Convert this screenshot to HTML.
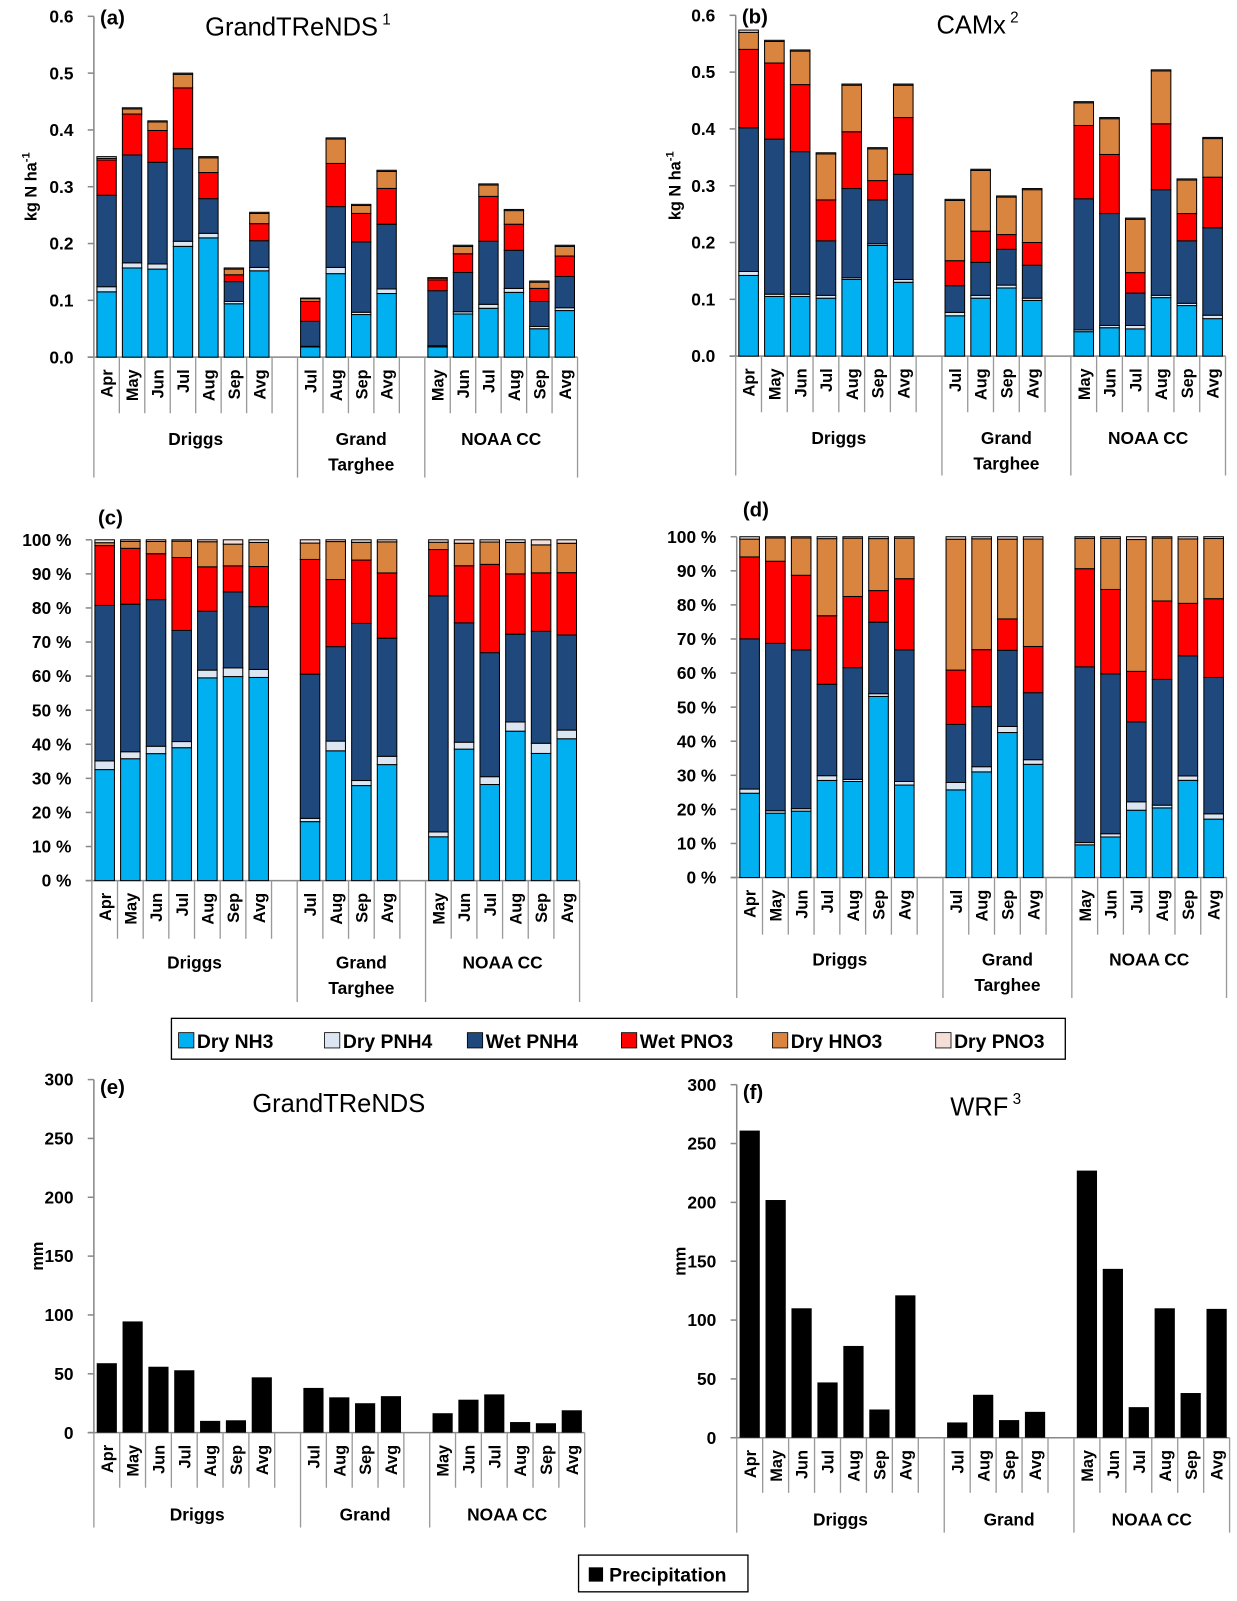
<!DOCTYPE html>
<html><head><meta charset="utf-8"><style>
html,body{margin:0;padding:0;background:#fff;}
svg{display:block;font-family:"Liberation Sans",sans-serif;}
</style></head><body>
<svg id="fig" width="1237" height="1601" viewBox="0 0 1237 1601" xmlns="http://www.w3.org/2000/svg"><g id="root" transform="scale(1.0204)"></g></svg>
<script>
// ---- categories ----
const driggsMonths=["Apr","May","Jun","Jul","Aug","Sep","Avg"];
const gtMonths=["Jul","Aug","Sep","Avg"];
const noaaMonths=["May","Jun","Jul","Aug","Sep","Avg"];
const groupLabelsNdep=[["Driggs"],["Grand","Targhee"],["NOAA CC"]];
const groupLabelsPrecip=[["Driggs"],["Grand"],["NOAA CC"]];
const seriesNames=["Dry NH3","Dry PNH4","Wet PNH4","Wet PNO3","Dry HNO3","Dry PNO3"];
// ---- panel (a) GrandTReNDS, kg N/ha ----
const aDryNH3 =[0.115,0.157,0.155,0.195,0.210,0.094,0.152, 0.018,0.147,0.075,0.112, 0.018,0.076,0.086,0.114,0.050,0.082];
const aDryPNH4=[0.009,0.009,0.009,0.009,0.008,0.004,0.006, 0.001,0.011,0.004,0.008, 0.002,0.004,0.007,0.007,0.004,0.005];
const aWetPNH4=[0.161,0.190,0.179,0.163,0.061,0.035,0.047, 0.044,0.107,0.124,0.114, 0.097,0.069,0.111,0.067,0.044,0.055];
const aWetPNO3=[0.062,0.072,0.056,0.107,0.046,0.012,0.030, 0.035,0.076,0.050,0.063, 0.019,0.033,0.079,0.046,0.023,0.036];
const aDryHNO3=[0.003,0.009,0.015,0.024,0.026,0.010,0.018, 0.005,0.043,0.014,0.030, 0.003,0.013,0.020,0.024,0.011,0.017];
const aDryPNO3=[0.003,0.002,0.002,0.002,0.002,0.002,0.002, 0.001,0.002,0.002,0.002, 0.001,0.002,0.002,0.002,0.002,0.002];
// ---- panel (b) CAMx, kg N/ha ----
const bDryNH3 =[0.142,0.105,0.105,0.102,0.135,0.195,0.130, 0.071,0.102,0.120,0.098, 0.043,0.050,0.048,0.103,0.089,0.066];
const bDryPNH4=[0.007,0.004,0.004,0.005,0.003,0.003,0.005, 0.006,0.005,0.005,0.004, 0.003,0.004,0.006,0.004,0.004,0.006];
const bWetPNH4=[0.253,0.273,0.251,0.096,0.157,0.077,0.185, 0.047,0.058,0.063,0.058, 0.231,0.197,0.057,0.186,0.110,0.154];
const bWetPNO3=[0.138,0.134,0.118,0.072,0.100,0.034,0.100, 0.044,0.055,0.026,0.040, 0.129,0.104,0.036,0.116,0.048,0.089];
const bDryHNO3=[0.030,0.038,0.059,0.081,0.082,0.056,0.057, 0.106,0.107,0.066,0.093, 0.040,0.063,0.094,0.093,0.059,0.068];
const bDryPNO3=[0.004,0.002,0.002,0.002,0.002,0.002,0.002, 0.002,0.002,0.002,0.002, 0.002,0.002,0.002,0.002,0.002,0.002];
// ---- precipitation, mm ----
const ePrecip=[59,94.5,56,53,10,10.5,47, 38,30,25,31, 16.5,28,32.5,9,8,19];
const fPrecip=[261,202,110,47,78,24,121, 13,36.5,15,22, 227,143.5,26,110,38,109.5];
// ---- tick labels ----
const absTicks=[0,0.1,0.2,0.3,0.4,0.5,0.6];
const absTickLabels=["0.0","0.1","0.2","0.3","0.4","0.5","0.6"];
const pctTicks=[0,10,20,30,40,50,60,70,80,90,100];
const pctTickLabels=["0 %","10 %","20 %","30 %","40 %","50 %","60 %","70 %","80 %","90 %","100 %"];
const mmTicks=[0,50,100,150,200,250,300];
const mmTickLabels=["0","50","100","150","200","250","300"];

const colors=["#00B0F0","#DCE6F2","#1F497D","#FF0000","#D9843F","#F5DED8"];
const NS="http://www.w3.org/2000/svg";
const root=document.getElementById("root");
function mk(tag,attrs,parent,text){const e=document.createElementNS(NS,tag);for(const k in attrs)e.setAttribute(k,attrs[k]);if(text!==undefined)e.textContent=text;(parent||root).appendChild(e);return e;}
const groups=[driggsMonths,gtMonths,noaaMonths];
const slotIdx=[];const catLabels=[];
(function(){let s=0;groups.forEach((g)=>{g.forEach(m=>{slotIdx.push(s);catLabels.push(m);s++;});s++;});})();
const NSLOT=19;

function drawFrame(p,name){
  const g=mk("g",{});
  
  
  p.g=g;
  p.slot=(p.x1-p.x0)/NSLOT;
  p.sx=i=>p.x0+p.slot*(slotIdx[i]+0.5);
  p.sy=v=>p.y0-(v-p.min)/(p.max-p.min)*(p.y0-p.yTop);
  const ax=mk("line",{x1:p.x0,y1:p.yTop,x2:p.x0,y2:p.y0,stroke:"#888","stroke-width":1.5},g);
  
  
  const bx=mk("line",{x1:p.x0-6,y1:p.y0,x2:p.x1,y2:p.y0,stroke:"#888","stroke-width":1.5},g);
  
  
  p.ticks.forEach((t,i)=>{
    const y=p.sy(t);
    mk("line",{x1:p.x0-6,y1:y,x2:p.x0,y2:y,stroke:"#888","stroke-width":1.5},g);
    const tl=mk("text",{x:p.x0-20,y:y+6,"text-anchor":"end","font-size":17,"font-weight":"bold"},g,p.tickLabels[i]);
    
    
  });
  for(let b=0;b<=NSLOT;b++){
    const long=(b===0||b===8||b===13||b===19);
    const x=p.x0+p.slot*b;
    mk("line",{x1:x,y1:p.y0,x2:x,y2:long?p.groupY:p.sepY,stroke:"#999","stroke-width":1.3},g);
  }
  catLabels.forEach((m,i)=>{
    const x=p.sx(i)+6;const y=p.y0+12;
    const t=mk("text",{x:x,y:y,transform:`rotate(-90 ${x} ${y})`,"text-anchor":"end","font-size":16,"font-weight":"bold"},g,m);
    
    
  });
  const bounds=[[0,8],[8,13],[13,19]];
  p.groupLabels.forEach((lines,gi)=>{
    const cx=p.x0+p.slot*(bounds[gi][0]+bounds[gi][1])/2;
    lines.forEach((ln,li)=>{
      const t=mk("text",{x:cx,y:p.labelY+li*25,"text-anchor":"middle","font-size":17,"font-weight":"bold"},g,ln);
      
      
    });
  });
  const pl=mk("text",{x:p.x0+6,y:p.letterY,"font-size":20,"font-weight":"bold"},g,p.letter);
  
  
  if(p.title){
    const tt=mk("text",{x:p.titleX,y:p.titleY,"text-anchor":"middle","font-size":25},g,p.title);
    if(p.sup){mk("tspan",{"font-size":15,dy:-11},tt," "+p.sup);}
    
    
  }
  if(p.yTitle){
    const yx=p.yTitleX,yy=(p.y0+p.yTop)/2;
    const yt=mk("text",{x:yx,y:yy,transform:`rotate(-90 ${yx} ${yy})`,"text-anchor":"middle","font-size":16,"font-weight":"bold"},g,p.yTitle);
    if(p.yTitleSup){mk("tspan",{"font-size":11,dy:-7},yt,p.yTitleSup);}
    
    
  }
  return g;
}
function drawStacked(p,series,pct){
  const bw=p.slot*0.76;
  for(let i=0;i<series[0].length;i++){
    let total=0;series.forEach(s=>total+=s[i]);
    let acc=0;
    series.forEach((s,k)=>{
      const v=pct? s[i]/total*100 : s[i];
      const yb=p.sy(acc),yt=p.sy(acc+v);acc+=v;
      const r=mk("rect",{x:p.sx(i)-bw/2,y:yt,width:bw,height:Math.max(0,yb-yt),fill:colors[k],stroke:"#000","stroke-width":1},p.g);
      
      
    });
  }
}
function drawBars(p,vals){
  const bw=p.slot*0.78;
  vals.forEach((v,i)=>{
    const yt=p.sy(v);
    const r=mk("rect",{x:p.sx(i)-bw/2,y:yt,width:bw,height:p.y0-yt,fill:"#000"},p.g);
    
    
  });
}
const A={x0:92,x1:566,y0:350,yTop:16,min:0,max:0.6,ticks:absTicks,tickLabels:absTickLabels,sepY:405,groupY:468,labelY:436,groupLabels:groupLabelsNdep,letter:"(a)",letterY:24,title:"GrandTReNDS",sup:"1",titleX:292,titleY:35,yTitle:"kg N  ha",yTitleSup:"-1",yTitleX:36};
const B={x0:721,x1:1201,y0:349,yTop:15,min:0,max:0.6,ticks:absTicks,tickLabels:absTickLabels,sepY:404,groupY:466,labelY:435,groupLabels:groupLabelsNdep,letter:"(b)",letterY:23,title:"CAMx",sup:"2",titleX:958,titleY:33,yTitle:"kg N  ha",yTitleSup:"-1",yTitleX:667};
const C={x0:90,x1:568,y0:863,yTop:529,min:0,max:100,ticks:pctTicks,tickLabels:pctTickLabels,sepY:920,groupY:982,labelY:949,groupLabels:groupLabelsNdep,letter:"(c)",letterY:514};
const D={x0:722,x1:1202,y0:860,yTop:526,min:0,max:100,ticks:pctTicks,tickLabels:pctTickLabels,sepY:916,groupY:978,labelY:946,groupLabels:groupLabelsNdep,letter:"(d)",letterY:506};
const E={x0:92,x1:573,y0:1404,yTop:1058,min:0,max:300,ticks:mmTicks,tickLabels:mmTickLabels,sepY:1458,groupY:1497,labelY:1490,groupLabels:groupLabelsPrecip,letter:"(e)",letterY:1072,title:"GrandTReNDS",titleX:332,titleY:1090,yTitle:"mm",yTitleX:42};
const F={x0:722,x1:1205,y0:1409,yTop:1063,min:0,max:300,ticks:mmTicks,tickLabels:mmTickLabels,sepY:1463,groupY:1502,labelY:1495,groupLabels:groupLabelsPrecip,letter:"(f)",letterY:1077,title:"WRF",sup:"3",titleX:966,titleY:1093,yTitle:"mm",yTitleX:672};
drawFrame(A,"panel-a-grandtrends-deposition");
drawStacked(A,[aDryNH3,aDryPNH4,aWetPNH4,aWetPNO3,aDryHNO3,aDryPNO3],false);
drawFrame(B,"panel-b-camx-deposition");
drawStacked(B,[bDryNH3,bDryPNH4,bWetPNH4,bWetPNO3,bDryHNO3,bDryPNO3],false);
drawFrame(C,"panel-c-grandtrends-percent");
drawStacked(C,[aDryNH3,aDryPNH4,aWetPNH4,aWetPNO3,aDryHNO3,aDryPNO3],true);
drawFrame(D,"panel-d-camx-percent");
drawStacked(D,[bDryNH3,bDryPNH4,bWetPNH4,bWetPNO3,bDryHNO3,bDryPNO3],true);
drawFrame(E,"panel-e-grandtrends-precip");
drawBars(E,ePrecip);
drawFrame(F,"panel-f-wrf-precip");
drawBars(F,fPrecip);
// legend
const lg=mk("g",{});


mk("rect",{x:168,y:998,width:876,height:40,fill:"#fff",stroke:"#000","stroke-width":1.3},lg);
const lgX=[175,318,458,609,757,917];
seriesNames.forEach((n,k)=>{
  const e=mk("g",{},lg);
  
  
  mk("rect",{x:lgX[k],y:1012,width:15,height:15,fill:colors[k],stroke:"#000","stroke-width":0.8},e);
  mk("text",{x:lgX[k]+18,y:1027,"font-size":19,"font-weight":"bold"},e,n);
});
const pg=mk("g",{});


mk("rect",{x:567,y:1524,width:166,height:36,fill:"#fff",stroke:"#000","stroke-width":1.3},pg);
mk("rect",{x:577,y:1536,width:14,height:14,fill:"#000"},pg);
mk("text",{x:597,y:1550,"font-size":19,"font-weight":"bold"},pg,"Precipitation");
</script>
</body></html>
